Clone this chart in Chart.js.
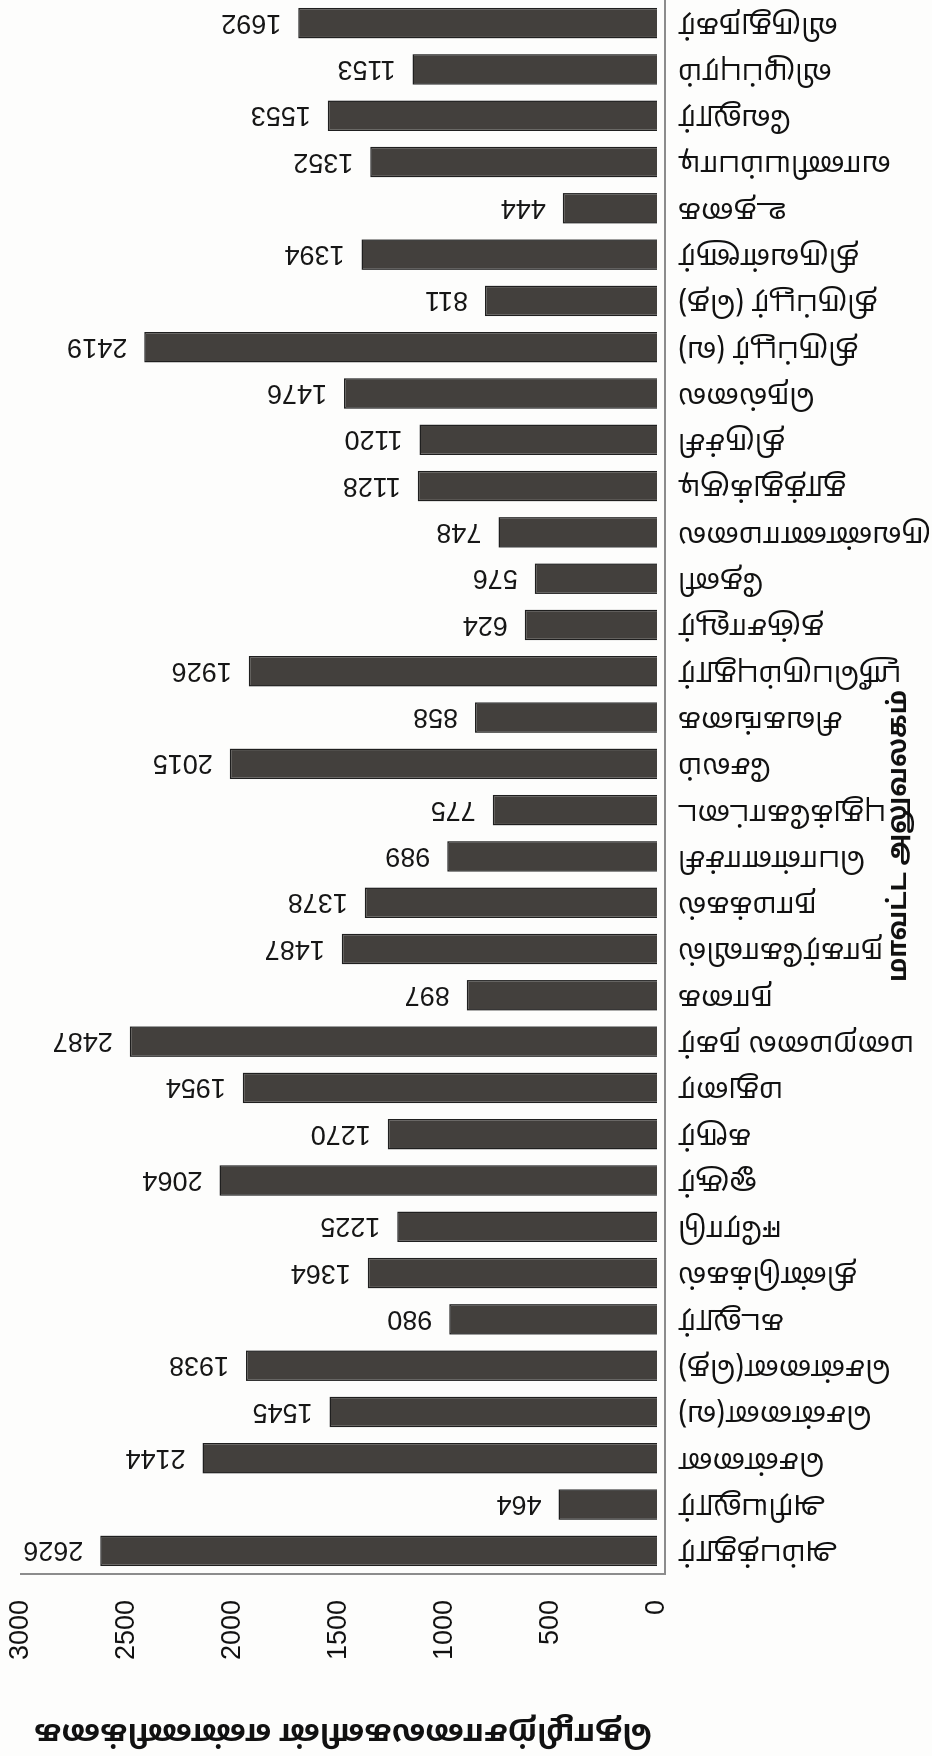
<!DOCTYPE html>
<html lang="ta">
<head>
<meta charset="utf-8">
<title>மாவட்ட அலுவலக வாரியாக தொழிற்சாலைகள்</title>
<script src="https://cdn.jsdelivr.net/npm/chart.js@4.4.1/dist/chart.umd.min.js"></script>
<style>
  html, body { margin: 0; padding: 0; background: #fdfdfc; }
  body { width: 932px; height: 1756px; overflow: hidden; position: relative; }
  /* column chart laid out flat, then turned a quarter turn anticlockwise */
  #turn {
    position: absolute; left: 0; top: 0;
    width: 1756px; height: 932px;
    transform-origin: 0 0;
    transform: translate(0, 1756px) rotate(-90deg);
  }
</style>
</head>
<body>
<div id="turn"><canvas id="factories" width="1756" height="932"></canvas></div>
<script>
// மாவட்ட அலுவலகங்கள் (order along the category axis)
const districts = [
  'அம்பத்தூர்', 'அரியலூர்', 'சென்னை', 'சென்னை(வ)', 'சென்னை(தெ)', 'கடலூர்',
  'திண்டுக்கல்', 'ஈரோடு', 'ஓசூர்', 'கரூர்', 'மதுரை', 'மறைமலை நகர்',
  'நாகை', 'நாகர்கோவில்', 'நாமக்கல்', 'பொள்ளாச்சி', 'புதுக்கோட்டை', 'சேலம்',
  'சிவகங்கை', 'ஸ்ரீபெரும்புதூர்', 'தஞ்சாவூர்', 'தேனி', 'திருவண்ணாமலை', 'தூத்துக்குடி',
  'திருச்சி', 'நெல்லை', 'திருப்பூர் (வ)', 'திருப்பூர் (தெ)', 'திருவள்ளூர்', 'உதகை',
  'வாணியம்பாடி', 'வேலூர்', 'விழுப்புரம்', 'விருதுநகர்'
];

// registered factories per office
const factoryCounts = [
  2626, 464, 2144, 1545, 1938, 980,
  1364, 1225, 2064, 1270, 1954, 2487,
  897, 1487, 1378, 989, 775, 2015,
  858, 1926, 624, 576, 748, 1128,
  1120, 1476, 2419, 811, 1394, 444,
  1352, 1553, 1153, 1692
];

const countTicks = [0, 500, 1000, 1500, 2000, 2500, 3000];

const yTitle = 'தொழிற்சாலைகளின் எண்ணிக்கை';
const xTitle = 'மாவட்ட அலுவலகம்';

const numFont = '"Liberation Sans", Arial, sans-serif';
const tamilFont = '"Noto Sans Tamil", "Noto Sans Tamil UI", Latha, "Noto Sans", sans-serif';

// count written just past the top of each column (reading upwards),
// plus the office-axis caption under the labels
const barValues = {
  id: 'barValues',
  afterDatasetsDraw(chart) {
    const ctx = chart.ctx;
    const bars = chart.getDatasetMeta(0).data;
    ctx.save();
    ctx.font = '27px ' + numFont;
    ctx.fillStyle = '#161616';
    ctx.textAlign = 'left';
    ctx.textBaseline = 'middle';
    bars.forEach((bar, i) => {
      ctx.save();
      ctx.translate(bar.x, bar.y - 17);
      ctx.rotate(-Math.PI / 2);
      ctx.fillText(String(factoryCounts[i]), 0, 1);
      ctx.restore();
    });
    ctx.restore();
  },
  afterDraw(chart) {
    const ctx = chart.ctx;
    ctx.save();
    ctx.font = 'bold 26px ' + tamilFont;
    ctx.fillStyle = '#111';
    ctx.textAlign = 'center';
    ctx.textBaseline = 'middle';
    ctx.fillText(xTitle, chart.width / 2 + 42, chart.height - 31);
    ctx.restore();
  }
};

const axisBorder = { display: true, color: '#8c8c8c', width: 2, dash: [2, 2] };

new Chart(document.getElementById('factories'), {
  type: 'bar',
  data: {
    labels: districts,
    datasets: [{
      data: factoryCounts,
      backgroundColor: '#43403d',
      borderColor: '#1f1f1f',
      borderWidth: 1.5,
      categoryPercentage: 1,
      barPercentage: 0.66
    }]
  },
  options: {
    responsive: false,
    animation: false,
    devicePixelRatio: 1,
    layout: { padding: { top: 21, right: 0, bottom: 0, left: 0 } },
    plugins: {
      legend: { display: false },
      tooltip: { enabled: false }
    },
    scales: {
      x: {
        grid: { display: false, drawTicks: true, tickLength: 13 },
        border: axisBorder,
        ticks: {
          autoSkip: false,
          minRotation: 90,
          maxRotation: 90,
          padding: 0,
          color: '#111',
          font: { family: tamilFont, size: 28, lineHeight: 0.8 }
        },
        afterFit(scale) { scale.height = 267; }
      },
      y: {
        min: -38,
        max: 3000,
        afterBuildTicks(scale) {
          scale.ticks = countTicks.map(v => ({ value: v }));
        },
        grid: { display: false, drawTicks: true, tickLength: 26 },
        border: axisBorder,
        ticks: {
          padding: 0,
          color: '#111',
          font: { family: numFont, size: 27, lineHeight: 1 },
          callback: v => String(v)
        },
        title: {
          display: true,
          text: yTitle,
          color: '#111',
          font: { family: tamilFont, size: 30, weight: 'bold', lineHeight: 1.2 },
          padding: { top: 8, bottom: 0 }
        },
        afterFit(scale) { scale.width = 182; }
      }
    }
  },
  plugins: [barValues]
});
</script>
</body>
</html>
